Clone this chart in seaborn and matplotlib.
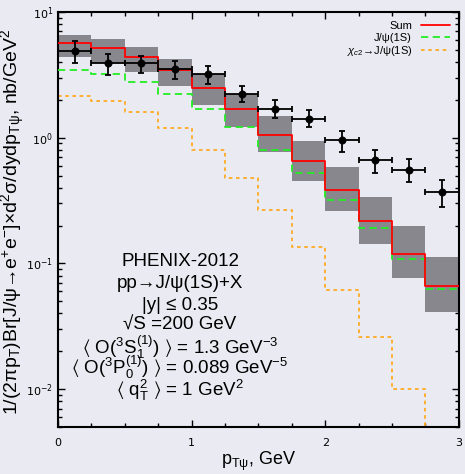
import numpy as np
import pandas as pd
import matplotlib
matplotlib.use("Agg")
import matplotlib.pyplot as plt
import seaborn as sns

# ---- data ----
bin_edges = [0.0, 0.25, 0.5, 0.75, 1.0, 1.25, 1.5, 1.75, 2.0, 2.25, 2.5, 2.75, 3.0]
sum_vals = [5.64, 5.15, 4.37, 3.46, 2.48, 1.70, 1.06, 0.653, 0.382, 0.218, 0.119, 0.0656]
sum_lo = [4.37, 3.92, 3.36, 2.60, 1.83, 1.22, 0.765, 0.456, 0.260, 0.142, 0.0764, 0.0410]
sum_hi = [6.57, 6.11, 5.27, 4.24, 3.22, 2.22, 1.50, 0.947, 0.589, 0.340, 0.197, 0.113]
jpsi_vals = [3.44, 3.20, 2.77, 2.23, 1.70, 1.21, 0.799, 0.521, 0.320, 0.190, 0.109, 0.0622]
chic_vals = [2.15, 1.97, 1.60, 1.19, 0.793, 0.479, 0.265, 0.136, 0.0614, 0.0260, 0.0101, 0.003]
data_x = [0.125, 0.375, 0.625, 0.875, 1.125, 1.375, 1.625, 1.875, 2.125, 2.375, 2.625, 2.875]
data_y = [4.90, 3.92, 3.92, 3.51, 3.20, 2.22, 1.69, 1.42, 0.952, 0.660, 0.557, 0.371]
data_hi = [5.89, 4.62, 4.50, 4.08, 3.71, 2.59, 1.99, 1.67, 1.13, 0.799, 0.678, 0.462]
data_lo = [3.92, 3.18, 3.30, 2.94, 2.67, 1.92, 1.44, 1.22, 0.774, 0.525, 0.444, 0.282]

sns.set_theme(style="dark", rc={"axes.facecolor": "#EAEAF2", "figure.facecolor": "#EAEAF2"})
plt.rcParams['font.family'] = ['Liberation Sans', 'DejaVu Sans']
plt.rcParams['mathtext.fontset'] = 'custom'
plt.rcParams['mathtext.rm'] = 'Liberation Sans'
plt.rcParams['mathtext.it'] = 'Liberation Sans:italic'
plt.rcParams['mathtext.bf'] = 'Liberation Sans:bold'
plt.rcParams['mathtext.fallback'] = 'stixsans'

fig = plt.figure(figsize=(4.65, 4.74), dpi=100)
ax = fig.add_axes([0.1247, 0.0992, 0.862, 0.8755])

edges = np.array(bin_edges)
lefts = edges[:-1]
widths = np.diff(edges)

# gray uncertainty band
ax.bar(lefts, np.array(sum_hi) - np.array(sum_lo), bottom=sum_lo, width=widths,
       align='edge', color='#88878E', linewidth=0, zorder=1)

def step_df(vals):
    return pd.DataFrame({"x": edges, "y": list(vals) + [vals[-1]]})

sns.lineplot(data=step_df(sum_vals), x="x", y="y", ax=ax, color='#FF0000', lw=1.3,
             drawstyle='steps-post', label='Sum', zorder=4)
sns.lineplot(data=step_df(jpsi_vals), x="x", y="y", ax=ax, color='#22EE22', lw=1.3,
             drawstyle='steps-post', label='J/ψ(1S)', zorder=3)
ax.lines[-1].set_dashes([4, 2.5])
sns.lineplot(data=step_df(chic_vals), x="x", y="y", ax=ax, color='#FFAA22', lw=1.3,
             drawstyle='steps-post', label=r'$\chi_{c2}$→J/ψ(1S)', zorder=2)
ax.lines[-1].set_dashes([2, 2])

dy = np.array(data_y)
ax.errorbar(data_x, data_y, xerr=0.125,
            yerr=[dy - np.array(data_lo), np.array(data_hi) - dy],
            fmt='none', ecolor='black', elinewidth=1.3, capsize=2.5, capthick=1.3, zorder=5)
sns.scatterplot(x=data_x, y=data_y, ax=ax, color='black', s=28, edgecolor='black', zorder=6)

ax.set_yscale('log')
ax.set_xlim(0, 3)
ax.set_ylim(0.005, 10)
ax.set_xticks([0, 1, 2, 3])
ax.set_xticks(np.arange(0, 3.01, 0.25), minor=True)
ax.tick_params(which='both', direction='in', top=True, right=True, colors='black',
               labelsize=8, bottom=True, left=True)
ax.tick_params(which='major', length=5, width=1)
ax.tick_params(which='minor', length=3, width=1)
ax.tick_params(axis='x', pad=8)
for lab in ax.get_xticklabels() + ax.get_yticklabels():
    lab.set_family('DejaVu Sans')
    lab.set_fontsize(8)
for s in ax.spines.values():
    s.set_color('black')
    s.set_linewidth(1.5)
ax.grid(False)

ax.set_xlabel(r'p$_{\mathrm{T\psi}}$, GeV', fontsize=13, color='black')
ax.xaxis.set_label_coords(0.5, -0.056)
ax.set_ylabel(r'1/(2πp$_{\mathrm{T}}$)Br[J/ψ→e$^{+}$e$^{-}$]×d$^{2}$σ/dydp$_{\mathrm{T\psi}}$, nb/GeV$^{2}$',
              fontsize=14, color='black')
ax.yaxis.set_label_coords(-0.078, 0.494)

leg = ax.legend(loc='upper right', frameon=False, markerfirst=False, fontsize=8,
                handlelength=2.6, borderaxespad=0.4, labelspacing=0.15)
for t in leg.get_texts():
    t.set_color('black')

lines = ['PHENIX-2012',
         'pp→J/ψ(1S)+X',
         '|y| ≤ 0.35',
         '√S =200 GeV',
         r'$\langle$ O($^{3}$S$_{1}^{(1)}$) $\rangle$ = 1.3 GeV$^{-3}$',
         r'$\langle$ O($^{3}$P$_{0}^{(1)}$) $\rangle$ = 0.089 GeV$^{-5}$',
         r'$\langle$ q$_{\mathrm{T}}^{2}$ $\rangle$ = 1 GeV$^{2}$']
ys = [262, 284, 305, 325, 347, 367, 390]
for t, yp in zip(lines, ys):
    fig.text(180 / 465, 1 - yp / 474, t, ha='center', va='center', fontsize=13.5, color='black')

fig.savefig('out.png', dpi=100, facecolor=fig.get_facecolor())
